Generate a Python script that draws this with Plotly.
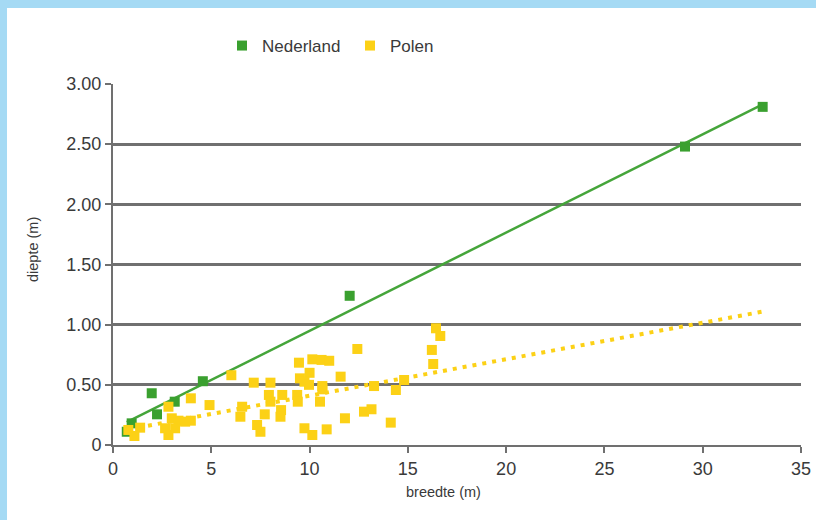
import plotly.graph_objects as go

# ---- data ----
nl_x = [0.70, 0.95, 1.97, 2.24, 3.14, 4.57, 12.04, 29.1, 33.05]
nl_y = [0.11, 0.18, 0.43, 0.255, 0.36, 0.53, 1.24, 2.48, 2.81]

pl_x = [16.43, 16.65, 16.22, 16.29, 12.43, 10.14, 10.61, 11.0, 9.46, 10.0,
        9.51, 9.74, 9.97, 10.65, 11.58, 6.02, 7.16, 8.01, 7.93, 8.01,
        8.61, 8.55, 8.52, 9.37, 9.40, 10.53, 10.65, 13.28, 14.81, 14.39,
        12.77, 13.15, 14.13, 11.8, 10.87, 10.14, 9.74, 7.72, 7.33, 7.5,
        6.48, 6.57, 4.91, 3.96, 2.82, 2.99, 3.33, 3.96, 3.67, 2.65,
        2.82, 3.16, 1.38, 1.09, 0.78]
pl_y = [0.97, 0.906, 0.79, 0.673, 0.798, 0.712, 0.707, 0.70, 0.684, 0.60,
        0.554, 0.526, 0.50, 0.49, 0.568, 0.58, 0.518, 0.518, 0.416, 0.36,
        0.416, 0.29, 0.235, 0.416, 0.36, 0.36, 0.463, 0.49, 0.54, 0.457,
        0.277, 0.297, 0.186, 0.222, 0.13, 0.083, 0.139, 0.255, 0.166, 0.11,
        0.235, 0.318, 0.332, 0.388, 0.318, 0.222, 0.202, 0.202, 0.194, 0.139,
        0.083, 0.139, 0.144, 0.075, 0.125]

nl_trend_x = [0.70, 33.05]
nl_trend_y = [0.19, 2.83]
pl_trend_x = [0.78, 33.1]
pl_trend_y = [0.13, 1.11]

x_ticks = [0, 5, 10, 15, 20, 25, 30, 35]
y_ticks = [0, 0.5, 1.0, 1.5, 2.0, 2.5, 3.0]
y_ticktext = ["0", "0.50", "1.00", "1.50", "2.00", "2.50", "3.00"]

GREEN = "#3aa02f"
GREEN_LINE = "#45a53a"
YELLOW = "#fcd116"
BLUE = "#a5daf4"
TXT = "#3a3a3a"
GRID = "#707070"
FONT = "Liberation Sans, Arial, sans-serif"

fig = go.Figure()

fig.add_trace(go.Scatter(x=nl_trend_x, y=nl_trend_y, mode="lines",
                         line=dict(color=GREEN_LINE, width=2.5),
                         showlegend=False, hoverinfo="skip"))
fig.add_trace(go.Scatter(x=pl_trend_x, y=pl_trend_y, mode="lines",
                         line=dict(color=YELLOW, width=4, dash="4px,6px"),
                         showlegend=False, hoverinfo="skip"))
fig.add_trace(go.Scatter(x=nl_x, y=nl_y, mode="markers", name="Nederland",
                         marker=dict(symbol="square", size=10, color=GREEN)))
fig.add_trace(go.Scatter(x=pl_x, y=pl_y, mode="markers", name="Polen",
                         marker=dict(symbol="square", size=10, color=YELLOW)))

# Plot area: x 113..801 px, y 84..445 px
L, R, T, B = 113, 15, 84, 75
W, H = 816, 520
pw, ph = W - L - R, H - T - B

def px_to_paper_x(px):
    return (px - L) / pw

def px_to_paper_y(py):
    return (H - B - py) / ph

shapes = [
    dict(type="rect", xref="paper", yref="paper", layer="below",
         x0=px_to_paper_x(0), x1=px_to_paper_x(W),
         y0=px_to_paper_y(8), y1=px_to_paper_y(0),
         fillcolor=BLUE, line=dict(width=0)),
    dict(type="rect", xref="paper", yref="paper", layer="below",
         x0=px_to_paper_x(0), x1=px_to_paper_x(7),
         y0=px_to_paper_y(H), y1=px_to_paper_y(0),
         fillcolor=BLUE, line=dict(width=0)),
]

annotations = [
    dict(text="diepte (m)", xref="paper", yref="paper",
         x=px_to_paper_x(33), y=px_to_paper_y(250), textangle=-90,
         showarrow=False, font=dict(size=14.5, color=TXT, family=FONT),
         xanchor="center", yanchor="middle"),
    dict(text="breedte (m)", xref="paper", yref="paper",
         x=px_to_paper_x(443), y=px_to_paper_y(492),
         showarrow=False, font=dict(size=14.5, color=TXT, family=FONT),
         xanchor="center", yanchor="middle"),
]

fig.update_layout(
    width=W, height=H,
    margin=dict(l=L, r=R, t=T, b=B, pad=0),
    paper_bgcolor="white", plot_bgcolor="white",
    font=dict(family=FONT, color=TXT),
    shapes=shapes, annotations=annotations,
    legend=dict(orientation="h", x=px_to_paper_x(222), y=px_to_paper_y(28),
                xanchor="left", yanchor="top", font=dict(size=17, color=TXT),
                bgcolor="rgba(0,0,0,0)", itemwidth=30, tracegroupgap=0,
                entrywidth=83, entrywidthmode="pixels"),
    xaxis=dict(range=[0, 35], tickvals=x_ticks, ticks="outside", ticklen=6,
               tickwidth=2, tickcolor=GRID, showline=True, linecolor=GRID,
               linewidth=2, showgrid=False, zeroline=False, automargin=False,
               tickfont=dict(size=18, color=TXT), fixedrange=True),
    yaxis=dict(range=[0, 3], tickvals=y_ticks, ticktext=y_ticktext,
               ticks="outside", ticklen=6, tickwidth=2, tickcolor=GRID,
               showline=True, linecolor=GRID, linewidth=2, automargin=False,
               showgrid=True, gridcolor=GRID, gridwidth=2.5, zeroline=False,
               tickfont=dict(size=18, color=TXT), fixedrange=True),
)

fig.write_html("out.html", config={"displayModeBar": False},
               post_script="document.body.style.margin='0';"
                           "document.body.style.overflow='hidden';")
